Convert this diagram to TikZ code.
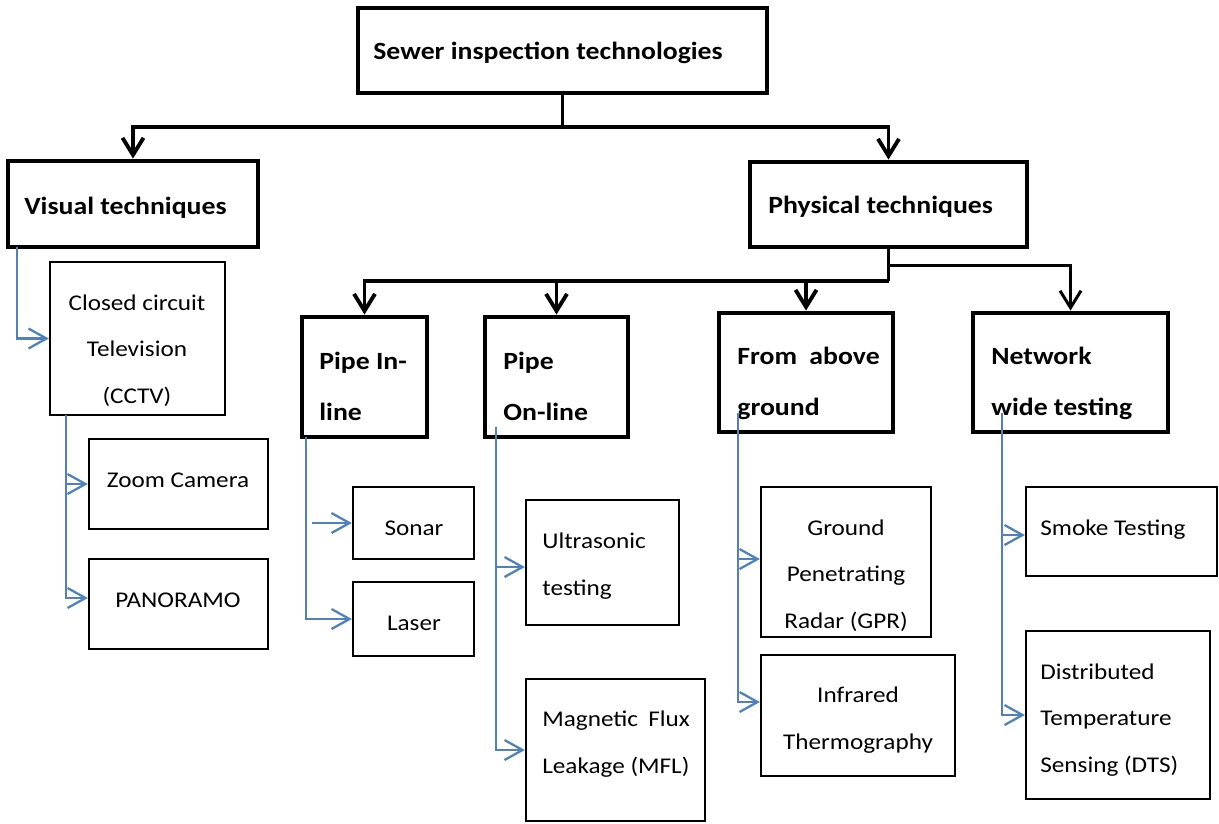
\documentclass[tikz,border=0pt]{standalone}
\usepackage{fontspec}
\setmainfont{Carlito}[FakeStretch=1.12]
\usepackage{xcolor}
\definecolor{subblue}{HTML}{4F81BD}
\usepackage{tikz}
\usetikzlibrary{
    arrows.meta,
    fit,
}
\newcommand\headfont{\bfseries\fontsize{14.1}{28.9}\selectfont}
\newcommand\itemfont{\fontsize{12.8}{26.4}\selectfont}

\begin{document}
\begin{tikzpicture}[%
    x=0.02cm,
    y=-0.02cm,
    bigbox/.style={draw, line width=2.8pt, inner sep=0},
    smallbox/.style={draw, line width=1.3pt, inner sep=0},
    head/.style={font=\headfont, inner sep=0, align=left},
    item/.style={font=\itemfont, inner sep=0},
    tree/.style={
        draw,
        line width=2.2pt,
        -{Straight Barb[length=0.34cm, width=0.42cm]}
    },
    sub/.style={
        draw=subblue,
        line width=1.3pt,
        -{Straight Barb[length=0.36cm, width=0.4cm]}
    }
]

\useasboundingbox (0,0) rectangle (1219,823);

% main levels (base = baseline of last line)
\node [bigbox, fit={(358,8) (767,93)}] (sewer) {};
\node [head, anchor=base west] (sewer-t) at (373,59) {Sewer inspection technologies};

\node [bigbox, fit={(8,161) (258,247)}] (visual) {};
\node [head, anchor=base west] (visual-t) at (24,214) {Visual techniques};

\node [bigbox, fit={(750,162) (1027,247)}] (physical) {};
\node [head, anchor=base west] (physical-t) at (768,213) {Physical techniques};

\node [bigbox, fit={(302,317) (427,437)}] (inline) {};
\node [head, anchor=base west] (inline-t) at (319,420) {Pipe In-\\line};

\node [bigbox, fit={(485,317) (628,437)}] (online) {};
\node [head, anchor=base west] (online-t) at (503,420) {Pipe\\On-line};

\node [bigbox, fit={(719,313) (893,432)}] (above) {};
\node [head, anchor=base west] (above-t) at (737,415) {From\hspace{0.5em}above\\ground};

\node [bigbox, fit={(973,313) (1168,432)}] (network) {};
\node [head, anchor=base west] (network-t) at (991,415) {Network\\wide testing};

% leaves
\node [smallbox, fit={(50,262) (225,415)}] (cctv) {};
\node [item, anchor=base, align=center] (cctv-t) at (137,403) {Closed circuit\\Television\\(CCTV)};

\node [smallbox, fit={(89,439) (268,529)}] (zoom) {};
\node [item, anchor=base] (zoom-t) at (178,487) {Zoom Camera};

\node [smallbox, fit={(89,559) (268,649)}] (panoramo) {};
\node [item, anchor=base] (panoramo-t) at (178,607) {PANORAMO};

\node [smallbox, fit={(353,487) (474,559)}] (sonar) {};
\node [item, anchor=base] (sonar-t) at (414,535) {Sonar};

\node [smallbox, fit={(353,582) (474,656)}] (laser) {};
\node [item, anchor=base] (laser-t) at (414,630) {Laser};

\node [smallbox, fit={(526,500) (679,625)}] (ultra) {};
\node [item, anchor=base west, align=left] (ultra-t) at (542,595) {Ultrasonic\\testing};

\node [smallbox, fit={(526,679) (705,821)}] (mfl) {};
\node [item, anchor=base west, align=left] (mfl-t) at (542,773) {Magnetic\hspace{0.45em}Flux\\Leakage (MFL)};

\node [smallbox, fit={(761,487) (931,637)}] (gpr) {};
\node [item, anchor=base, align=center] (gpr-t) at (846,628) {Ground\\Penetrating\\Radar (GPR)};

\node [smallbox, fit={(761,655) (955,776)}] (infrared) {};
\node [item, anchor=base, align=center] (infrared-t) at (858,749) {Infrared\\Thermography};

\node [smallbox, fit={(1026,487) (1217,576)}] (smoke) {};
\node [item, anchor=base west] (smoke-t) at (1040,535) {Smoke Testing};

\node [smallbox, fit={(1026,631) (1210,799)}] (dts) {};
\node [item, anchor=base west, align=left] (dts-t) at (1040,772) {Distributed\\Temperature\\Sensing (DTS)};

% black tree
\coordinate (top-split) at (sewer.south |- 0,127);
\coordinate (phys-right) at (physical.south |- 0,265);
\coordinate (phys-left) at (physical.south |- 0,281);

\draw [tree, -] (sewer.south) -- (top-split);
\draw [tree] (top-split) -| (visual.north);
\draw [tree] (top-split) -| (physical.north);

\draw [tree, -] (physical.south) -- (phys-left);
\draw [tree] (phys-left) -| (inline.north);
\draw [tree] (phys-left) -| (online.north);
\draw [tree] (phys-left) -| (above.north);
\draw [tree, line width=1.7pt] (phys-right) -| (network.north);

% blue branches
\coordinate (visual-root) at (17,247);
\coordinate (cctv-root) at (66,415);
\coordinate (inline-root) at (306,437);
\coordinate (sonar-tail) at (312,523);
\coordinate (online-root) at (496,427);
\coordinate (above-root) at (738,413);
\coordinate (network-root) at (1002,413);

\draw [sub] (visual-root) |- (cctv.west);
\draw [sub] (cctv-root) |- (zoom.west);
\draw [sub] (cctv-root) |- (panoramo.west |- 0,598);
\draw [sub] (inline-root) |- (laser.west);
\draw [sub] (sonar-tail) -- (sonar.west);
\draw [sub] (online-root) |- (ultra.west |- 0,567);
\draw [sub] (online-root) |- (mfl.west);
\draw [sub] (above-root) |- (gpr.west |- 0,559);
\draw [sub] (above-root) |- (infrared.west |- 0,702);
\draw [sub] (network-root) |- (smoke.west |- 0,535);
\draw [sub] (network-root) |- (dts.west);

\end{tikzpicture}
\end{document}
